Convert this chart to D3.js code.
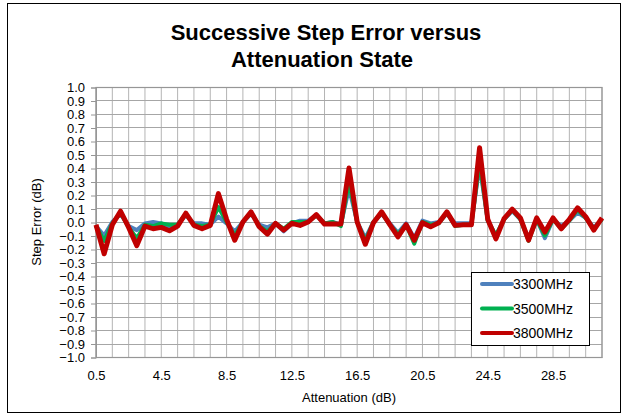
<!DOCTYPE html>
<html><head><meta charset="utf-8">
<script src="https://cdn.jsdelivr.net/npm/d3@7/dist/d3.min.js"></script>
<style>body{margin:0;background:#fff}svg{display:block}text{font-family:"Liberation Sans",Arial,sans-serif;fill:#000}</style>
</head><body><svg id="c" width="628" height="420"></svg>
<script>
const attenuation = d3.range(63).map(i => 0.5 + 0.5 * i);
const seriesNames = ["3300MHz", "3500MHz", "3800MHz"];
const s3300 = [-0.03,-0.10,0.0,0.06,-0.03,-0.06,-0.01,0.0,-0.01,-0.04,-0.02,0.05,-0.01,-0.01,-0.02,0.04,-0.01,-0.07,0.0,0.06,-0.02,-0.04,-0.01,-0.07,-0.01,0.01,0.01,0.05,-0.01,0.0,-0.02,0.25,0.0,-0.12,0.0,0.06,-0.01,-0.08,-0.01,-0.12,0.01,-0.01,0.0,0.06,-0.01,-0.01,-0.01,0.42,0.01,-0.10,0.02,0.08,0.02,-0.12,0.02,-0.12,0.02,-0.03,0.01,0.07,0.03,-0.04,0.02];
const s3500 = [-0.03,-0.14,-0.01,0.07,-0.04,-0.12,-0.02,-0.03,-0.01,-0.02,-0.02,0.06,-0.02,-0.03,-0.02,0.11,0.0,-0.10,0.0,0.07,-0.03,-0.07,-0.01,-0.05,0.0,0.0,0.0,0.05,-0.01,0.0,-0.03,0.30,0.0,-0.14,0.0,0.07,-0.02,-0.09,-0.02,-0.16,0.0,-0.02,-0.01,0.07,-0.03,-0.02,-0.02,0.45,0.01,-0.10,0.02,0.09,0.02,-0.14,0.02,-0.10,0.02,-0.05,0.01,0.09,0.03,-0.05,0.02];
const s3800 = [-0.02,-0.235,-0.02,0.08,-0.04,-0.175,-0.03,-0.05,-0.04,-0.065,-0.03,0.065,-0.025,-0.05,-0.025,0.21,0.02,-0.135,0.0,0.075,-0.035,-0.09,-0.01,-0.06,-0.01,-0.025,0.0,0.055,-0.015,-0.015,-0.015,0.40,0.0,-0.165,-0.005,0.075,-0.02,-0.11,-0.02,-0.135,-0.005,-0.035,-0.005,0.075,-0.025,-0.02,-0.02,0.55,0.02,-0.125,0.025,0.095,0.03,-0.135,0.03,-0.075,0.03,-0.05,0.02,0.105,0.04,-0.06,0.03];
const xTickLabels = [0.5,4.5,8.5,12.5,16.5,20.5,24.5,28.5];
const yTickValues = d3.range(21).map(i => -1 + 0.1 * i);

const colors = ["#4f81bd", "#00b050", "#c00000"];
const widths = [4, 4, 5];
const allSeries = [s3300, s3500, s3800];

const svg = d3.select("#c");
const L = 96, R = 602, T = 87, B = 357;
const x = d3.scaleLinear().domain([0.5, 31.5]).range([L, R]);
const y = d3.scaleLinear().domain([-1, 1]).range([B, T]);

svg.append("rect").attr("x", 7.5).attr("y", 3.5).attr("width", 613).attr("height", 409)
  .attr("fill", "#fff").attr("stroke", "#000").attr("stroke-width", 1);

// grid
const grid = svg.append("g");
grid.selectAll(".gv").data(d3.range(32).map(i => 0.5 + i)).enter().append("line")
  .attr("x1", d => x(d)).attr("x2", d => x(d)).attr("y1", T).attr("y2", B)
  .attr("stroke", "#b4b4b4").attr("stroke-width", 1);
grid.selectAll(".gh").data(yTickValues).enter().append("line")
  .attr("x1", L).attr("x2", R).attr("y1", d => Math.round(y(d)) + 0.5).attr("y2", d => Math.round(y(d)) + 0.5)
  .attr("stroke", "#a6a6a6").attr("stroke-width", 1);
svg.append("rect").attr("x", L).attr("y", T + 0.5).attr("width", R - L).attr("height", B - T)
  .attr("fill", "none").attr("stroke", "#969696").attr("stroke-width", 1.2);

// y axis
const yAxis = d3.axisLeft(y).tickValues(yTickValues).tickSize(5).tickPadding(6).tickFormat(d3.format(".1f"));
const gy = svg.append("g").attr("transform", `translate(${L},0.5)`).call(yAxis);
gy.select(".domain").attr("stroke", "#969696");
gy.selectAll(".tick line").attr("stroke", "#969696");
gy.selectAll(".tick text").attr("font-size", 13).attr("font-family", "Liberation Sans, Arial, sans-serif").attr("fill", "#000");

// x axis
const xAxis = d3.axisBottom(x).tickValues(xTickLabels).tickSize(0).tickPadding(14).tickFormat(d3.format(".1f"));
const gx = svg.append("g").attr("transform", `translate(0,${B})`).call(xAxis);
gx.select(".domain").attr("stroke", "#969696");
gx.selectAll(".tick text").attr("font-size", 13).attr("font-family", "Liberation Sans, Arial, sans-serif").attr("fill", "#000");

// lines
const line = d3.line().x((d, i) => x(attenuation[i])).y(d => y(d));
allSeries.forEach((s, k) => {
  svg.append("path").datum(s).attr("d", line).attr("fill", "none")
    .attr("stroke", colors[k]).attr("stroke-width", widths[k]).attr("stroke-linejoin", "round");
});

// titles
svg.append("text").attr("x", 326).attr("y", 40).attr("text-anchor", "middle")
  .attr("font-size", 22).attr("font-weight", "bold").text("Successive Step Error versus");
svg.append("text").attr("x", 322).attr("y", 67).attr("text-anchor", "middle")
  .attr("font-size", 22).attr("font-weight", "bold").text("Attenuation State");
svg.append("text").attr("x", (L + R) / 2).attr("y", 402).attr("text-anchor", "middle")
  .attr("font-size", 13).text("Attenuation (dB)");
svg.append("text").attr("transform", `translate(41,${(T + B) / 2}) rotate(-90)`).attr("text-anchor", "middle")
  .attr("font-size", 13).text("Step Error (dB)");

// legend
const lg = svg.append("g");
lg.append("rect").attr("x", 471.5).attr("y", 272.5).attr("width", 118).attr("height", 73)
  .attr("fill", "#fff").attr("stroke", "#000").attr("stroke-width", 1);
seriesNames.forEach((n, k) => {
  const yy = 284 + k * 24.5;
  lg.append("line").attr("x1", 482).attr("x2", 512).attr("y1", yy).attr("y2", yy)
    .attr("stroke", colors[k]).attr("stroke-width", 4).attr("stroke-linecap", "round");
  lg.append("text").attr("x", 513).attr("y", yy + 5).attr("font-size", 14).text(n);
});
</script></body></html>
